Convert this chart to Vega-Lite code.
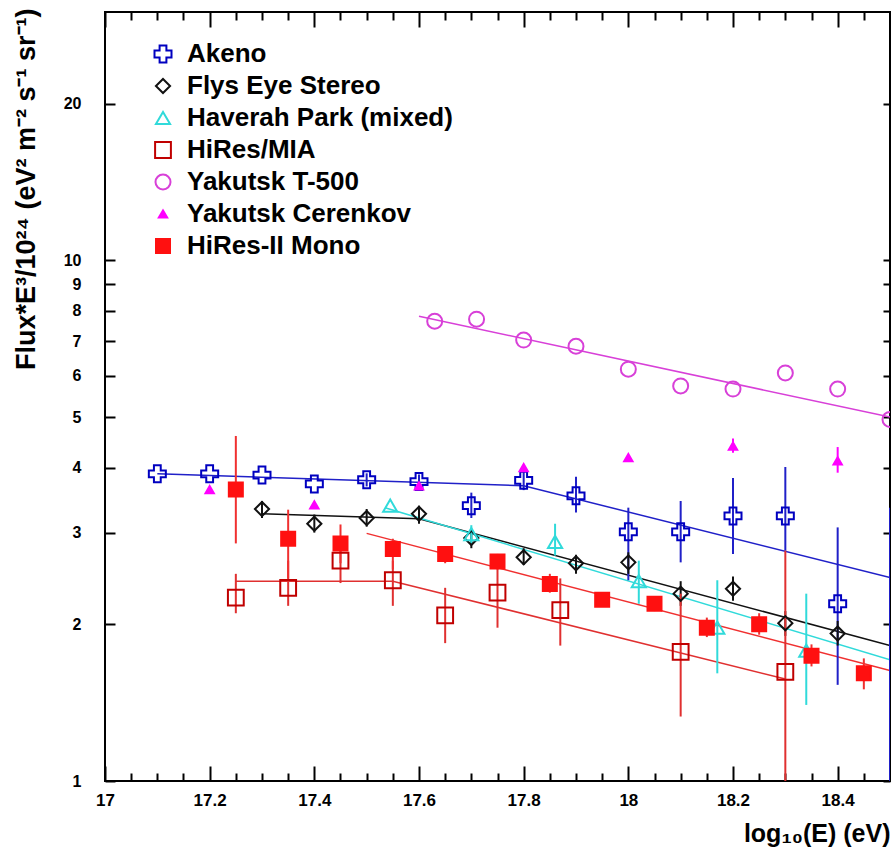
{
  "$schema": "https://vega.github.io/schema/vega-lite/v6.json",
  "width": 785,
  "height": 769,
  "autosize": {"type": "none"},
  "padding": {"left": 105, "top": 12, "right": 4, "bottom": 66},
  "background": "white",
  "config": {
    "font": "Liberation Sans",
    "view": {"stroke": "black", "strokeWidth": 2},
    "axis": {"grid": false, "domain": false, "tickColor": "black", "tickWidth": 2, "labelColor": "black", "titleColor": "black", "labelFont": "Liberation Sans", "titleFont": "Liberation Sans"},
    "legend": {"orient": "none", "legendX": 45, "legendY": 29, "padding": 0, "labelFontSize": 26, "labelFontWeight": "bold", "labelFont": "Liberation Sans", "labelColor": "black", "labelLimit": 0, "rowPadding": 6, "labelOffset": 11, "symbolStrokeWidth": 2}
  },
  "datasets": {
    "pts": [
      {"series": "Akeno", "x": 17.1, "y": 3.89},
      {"series": "Akeno", "x": 17.2, "y": 3.89},
      {"series": "Akeno", "x": 17.3, "y": 3.87},
      {"series": "Akeno", "x": 17.4, "y": 3.72},
      {"series": "Akeno", "x": 17.5, "y": 3.79, "lo": 3.68, "hi": 3.9},
      {"series": "Akeno", "x": 17.6, "y": 3.76, "lo": 3.64, "hi": 3.88},
      {"series": "Akeno", "x": 17.7, "y": 3.38, "lo": 3.2, "hi": 3.58},
      {"series": "Akeno", "x": 17.8, "y": 3.78, "lo": 3.62, "hi": 3.95},
      {"series": "Akeno", "x": 17.9, "y": 3.53, "lo": 3.28, "hi": 3.84},
      {"series": "Akeno", "x": 18.0, "y": 3.01, "lo": 2.43, "hi": 3.35},
      {"series": "Akeno", "x": 18.1, "y": 3.01, "lo": 2.63, "hi": 3.45},
      {"series": "Akeno", "x": 18.2, "y": 3.23, "lo": 2.73, "hi": 3.82},
      {"series": "Akeno", "x": 18.3, "y": 3.23, "lo": 2.77, "hi": 4.01},
      {"series": "Akeno", "x": 18.4, "y": 2.19, "lo": 1.53, "hi": 3.07},
      {"series": "Akeno", "x": 18.5, "lo": 1.0, "hi": 3.35},
      {"series": "Flys Eye Stereo", "x": 17.3, "y": 3.33, "lo": 3.2, "hi": 3.45},
      {"series": "Flys Eye Stereo", "x": 17.4, "y": 3.12, "lo": 3.0, "hi": 3.25},
      {"series": "Flys Eye Stereo", "x": 17.5, "y": 3.2, "lo": 3.08, "hi": 3.33},
      {"series": "Flys Eye Stereo", "x": 17.6, "y": 3.26, "lo": 3.12, "hi": 3.38},
      {"series": "Flys Eye Stereo", "x": 17.7, "y": 2.93, "lo": 2.8, "hi": 3.05},
      {"series": "Flys Eye Stereo", "x": 17.8, "y": 2.69, "lo": 2.6, "hi": 2.8},
      {"series": "Flys Eye Stereo", "x": 17.9, "y": 2.62, "lo": 2.5, "hi": 2.72},
      {"series": "Flys Eye Stereo", "x": 18.0, "y": 2.63, "lo": 2.5, "hi": 2.75},
      {"series": "Flys Eye Stereo", "x": 18.1, "y": 2.29, "lo": 2.17, "hi": 2.42},
      {"series": "Flys Eye Stereo", "x": 18.2, "y": 2.34, "lo": 2.22, "hi": 2.47},
      {"series": "Flys Eye Stereo", "x": 18.3, "y": 2.01, "lo": 1.9, "hi": 2.12},
      {"series": "Flys Eye Stereo", "x": 18.4, "y": 1.92, "lo": 1.82, "hi": 2.03},
      {"series": "Haverah Park (mixed)", "x": 17.545, "y": 3.38},
      {"series": "Haverah Park (mixed)", "x": 17.7, "y": 2.98, "lo": 2.85, "hi": 3.1},
      {"series": "Haverah Park (mixed)", "x": 17.86, "y": 2.88, "lo": 2.71, "hi": 3.12},
      {"series": "Haverah Park (mixed)", "x": 18.02, "y": 2.42, "lo": 2.19, "hi": 2.65},
      {"series": "Haverah Park (mixed)", "x": 18.17, "y": 1.97, "lo": 1.61, "hi": 2.43},
      {"series": "Haverah Park (mixed)", "x": 18.34, "y": 1.78, "lo": 1.4, "hi": 2.29},
      {"series": "HiRes/MIA", "x": 17.25, "y": 2.25, "lo": 2.1, "hi": 2.5},
      {"series": "HiRes/MIA", "x": 17.35, "y": 2.35, "lo": 2.17, "hi": 2.65},
      {"series": "HiRes/MIA", "x": 17.45, "y": 2.65, "lo": 2.4, "hi": 2.85},
      {"series": "HiRes/MIA", "x": 17.55, "y": 2.43, "lo": 2.17, "hi": 2.65},
      {"series": "HiRes/MIA", "x": 17.65, "y": 2.08, "lo": 1.84, "hi": 2.35},
      {"series": "HiRes/MIA", "x": 17.75, "y": 2.3, "lo": 1.97, "hi": 2.65},
      {"series": "HiRes/MIA", "x": 17.87, "y": 2.13, "lo": 1.82, "hi": 2.45},
      {"series": "HiRes/MIA", "x": 18.1, "y": 1.77, "lo": 1.33, "hi": 2.29},
      {"series": "HiRes/MIA", "x": 18.3, "y": 1.62, "lo": 1.0, "hi": 2.77},
      {"series": "Yakutsk T-500", "x": 17.63, "y": 7.64},
      {"series": "Yakutsk T-500", "x": 17.71, "y": 7.71},
      {"series": "Yakutsk T-500", "x": 17.8, "y": 7.03},
      {"series": "Yakutsk T-500", "x": 17.9, "y": 6.84},
      {"series": "Yakutsk T-500", "x": 18.0, "y": 6.18},
      {"series": "Yakutsk T-500", "x": 18.1, "y": 5.74},
      {"series": "Yakutsk T-500", "x": 18.2, "y": 5.66},
      {"series": "Yakutsk T-500", "x": 18.3, "y": 6.08},
      {"series": "Yakutsk T-500", "x": 18.4, "y": 5.66},
      {"series": "Yakutsk T-500", "x": 18.5, "y": 4.95},
      {"series": "Yakutsk Cerenkov", "x": 17.2, "y": 3.63},
      {"series": "Yakutsk Cerenkov", "x": 17.4, "y": 3.39},
      {"series": "Yakutsk Cerenkov", "x": 17.6, "y": 3.69},
      {"series": "Yakutsk Cerenkov", "x": 17.8, "y": 4.0},
      {"series": "Yakutsk Cerenkov", "x": 18.0, "y": 4.18},
      {"series": "Yakutsk Cerenkov", "x": 18.2, "y": 4.4, "lo": 4.27, "hi": 4.55},
      {"series": "Yakutsk Cerenkov", "x": 18.4, "y": 4.12, "lo": 3.91, "hi": 4.38},
      {"series": "HiRes-II Mono", "x": 17.25, "y": 3.63, "lo": 2.86, "hi": 4.6},
      {"series": "HiRes-II Mono", "x": 17.35, "y": 2.92, "lo": 2.45, "hi": 3.32},
      {"series": "HiRes-II Mono", "x": 17.45, "y": 2.86, "lo": 2.62, "hi": 3.11},
      {"series": "HiRes-II Mono", "x": 17.55, "y": 2.79, "lo": 2.55, "hi": 2.92},
      {"series": "HiRes-II Mono", "x": 17.65, "y": 2.73, "lo": 2.62, "hi": 2.82},
      {"series": "HiRes-II Mono", "x": 17.75, "y": 2.64, "lo": 2.55, "hi": 2.73},
      {"series": "HiRes-II Mono", "x": 17.85, "y": 2.39, "lo": 2.3, "hi": 2.5},
      {"series": "HiRes-II Mono", "x": 17.95, "y": 2.23, "lo": 2.16, "hi": 2.3},
      {"series": "HiRes-II Mono", "x": 18.05, "y": 2.19, "lo": 2.12, "hi": 2.26},
      {"series": "HiRes-II Mono", "x": 18.15, "y": 1.97, "lo": 1.89, "hi": 2.06},
      {"series": "HiRes-II Mono", "x": 18.25, "y": 2.0, "lo": 1.91, "hi": 2.1},
      {"series": "HiRes-II Mono", "x": 18.35, "y": 1.74, "lo": 1.66, "hi": 1.83},
      {"series": "HiRes-II Mono", "x": 18.45, "y": 1.61, "lo": 1.5, "hi": 1.72}
    ],
    "fits": [
      {"series": "Akeno", "x": 17.1, "y": 3.89},
      {"series": "Akeno", "x": 17.8, "y": 3.69},
      {"series": "Akeno", "x": 18.5, "y": 2.46},
      {"series": "Flys Eye Stereo", "x": 17.3, "y": 3.26},
      {"series": "Flys Eye Stereo", "x": 17.6, "y": 3.19},
      {"series": "Flys Eye Stereo", "x": 18.5, "y": 1.82},
      {"series": "Haverah Park (mixed)", "x": 17.535, "y": 3.35},
      {"series": "Haverah Park (mixed)", "x": 18.5, "y": 1.71},
      {"series": "Yakutsk T-500", "x": 17.6, "y": 7.81},
      {"series": "Yakutsk T-500", "x": 18.5, "y": 5.0},
      {"series": "HiRes/MIA", "x": 17.25, "y": 2.42},
      {"series": "HiRes/MIA", "x": 17.55, "y": 2.42},
      {"series": "HiRes/MIA", "x": 18.3, "y": 1.57},
      {"series": "HiRes-II Mono", "x": 17.5, "y": 2.99},
      {"series": "HiRes-II Mono", "x": 18.5, "y": 1.63}
    ]
  },
  "layer": [
    {
      "data": {"name": "fits"},
      "mark": {"type": "line", "strokeWidth": 1.5, "clip": true},
      "encoding": {
        "x": {"field": "x", "type": "quantitative", "scale": {"domain": [17, 18.5], "nice": false, "zero": false},
          "axis": {"orient": "bottom", "values": [17, 17.05, 17.1, 17.15, 17.2, 17.25, 17.3, 17.35, 17.4, 17.45, 17.5, 17.55, 17.6, 17.65, 17.7, 17.75, 17.8, 17.85, 17.9, 17.95, 18, 18.05, 18.1, 18.15, 18.2, 18.25, 18.3, 18.35, 18.4, 18.45],
            "labelExpr": "round(datum.value*100) % 20 == 0 ? format(datum.value, '~g') : ''",
            "tickSize": {"condition": {"test": "round(datum.value*100) % 20 != 0", "value": -8}, "value": -15},
            "labelPadding": 26, "labelFontSize": 17, "labelFontWeight": "bold", "labelFlush": false, "labelOverlap": false,
            "title": "log₁₀(E) (eV)", "titleFontSize": 25, "titleFontWeight": "bold", "titleX": 785, "titleY": 52, "titleAlign": "right", "titleBaseline": "middle"}},
        "y": {"field": "y", "type": "quantitative", "scale": {"type": "log", "domain": [1, 30], "nice": false},
          "axis": {"orient": "left", "values": [1, 2, 3, 4, 5, 6, 7, 8, 9, 10, 20], "format": "d", "tickSize": -10, "labelPadding": 34, "labelFontSize": 16, "labelFontWeight": "bold", "labelOverlap": false,
            "title": "Flux*E³/10²⁴ (eV² m⁻² s⁻¹ sr⁻¹)", "titleFontSize": 27, "titleFontWeight": "bold", "titleX": -79, "titleY": -4, "titleAngle": -90, "titleAlign": "right", "titleBaseline": "middle"}},
        "color": {"field": "series", "type": "nominal", "legend": null,
          "scale": {"domain": ["HiRes-II Mono", "HiRes/MIA", "Yakutsk T-500", "Haverah Park (mixed)", "Flys Eye Stereo", "Akeno", "Yakutsk Cerenkov"],
            "range": ["#f03030", "#e03030", "#d840d8", "#30dada", "#111111", "#2020c8", "#ff00ff"]}}
      }
    },
    {
      "data": {"name": "pts"},
      "transform": [{"filter": "isValid(datum.lo)"}],
      "mark": {"type": "rule", "strokeWidth": 2, "clip": true},
      "encoding": {
        "x": {"field": "x", "type": "quantitative", "scale": {"domain": [17, 18.5], "nice": false, "zero": false},
          "axis": {"orient": "top", "values": [17, 17.05, 17.1, 17.15, 17.2, 17.25, 17.3, 17.35, 17.4, 17.45, 17.5, 17.55, 17.6, 17.65, 17.7, 17.75, 17.8, 17.85, 17.9, 17.95, 18, 18.05, 18.1, 18.15, 18.2, 18.25, 18.3, 18.35, 18.4, 18.45],
            "tickSize": {"condition": {"test": "round(datum.value*100) % 20 != 0", "value": -8}, "value": -15}, "labels": false, "title": null}},
        "y": {"field": "lo", "type": "quantitative", "scale": {"type": "log", "domain": [1, 30], "nice": false},
          "axis": {"orient": "right", "values": [1, 2, 3, 4, 5, 6, 7, 8, 9, 10, 20], "tickSize": -7, "labels": false, "title": null}},
        "y2": {"field": "hi"},
        "color": {"field": "series", "type": "nominal", "legend": null,
          "scale": {"domain": ["HiRes-II Mono", "HiRes/MIA", "Yakutsk T-500", "Haverah Park (mixed)", "Flys Eye Stereo", "Akeno", "Yakutsk Cerenkov"],
            "range": ["#f03030", "#e03030", "#d840d8", "#30dada", "#111111", "#2020c8", "#ff00ff"]}}
      }
    },
    {
      "data": {"name": "pts"},
      "mark": {"type": "point", "filled": true, "strokeWidth": 2, "opacity": 1, "clip": true},
      "encoding": {
        "x": {"field": "x", "type": "quantitative", "scale": {"domain": [17, 18.5], "nice": false, "zero": false}, "axis": null},
        "y": {"field": "y", "type": "quantitative", "scale": {"type": "log", "domain": [1, 30], "nice": false}, "axis": null},
        "stroke": {"field": "series", "type": "nominal", "legend": {"title": null},
          "scale": {"domain": ["Akeno", "Flys Eye Stereo", "Haverah Park (mixed)", "HiRes/MIA", "Yakutsk T-500", "Yakutsk Cerenkov", "HiRes-II Mono"],
            "range": ["#0000c0", "#111111", "#30dada", "#c00000", "#d840d8", "#ff00ff", "#ff1010"]}},
        "fill": {"field": "series", "type": "nominal", "legend": {"title": null},
          "scale": {"domain": ["Akeno", "Flys Eye Stereo", "Haverah Park (mixed)", "HiRes/MIA", "Yakutsk T-500", "Yakutsk Cerenkov", "HiRes-II Mono"],
            "range": ["transparent", "transparent", "transparent", "transparent", "transparent", "#ff00ff", "#ff1010"]}},
        "shape": {"field": "series", "type": "nominal", "legend": {"title": null},
          "scale": {"domain": ["Akeno", "Flys Eye Stereo", "Haverah Park (mixed)", "HiRes/MIA", "Yakutsk T-500", "Yakutsk Cerenkov", "HiRes-II Mono"],
            "range": ["cross", "diamond", "triangle-up", "square", "circle", "triangle-up", "square"]}},
        "size": {"field": "series", "type": "nominal", "legend": {"title": null},
          "scale": {"type": "ordinal", "domain": ["Akeno", "Flys Eye Stereo", "Haverah Park (mixed)", "HiRes/MIA", "Yakutsk T-500", "Yakutsk Cerenkov", "HiRes-II Mono"],
            "range": [289, 200, 200, 250, 225, 70, 196]}}
      }
    }
  ],
  "resolve": {"axis": {"x": "independent", "y": "independent"}}
}
